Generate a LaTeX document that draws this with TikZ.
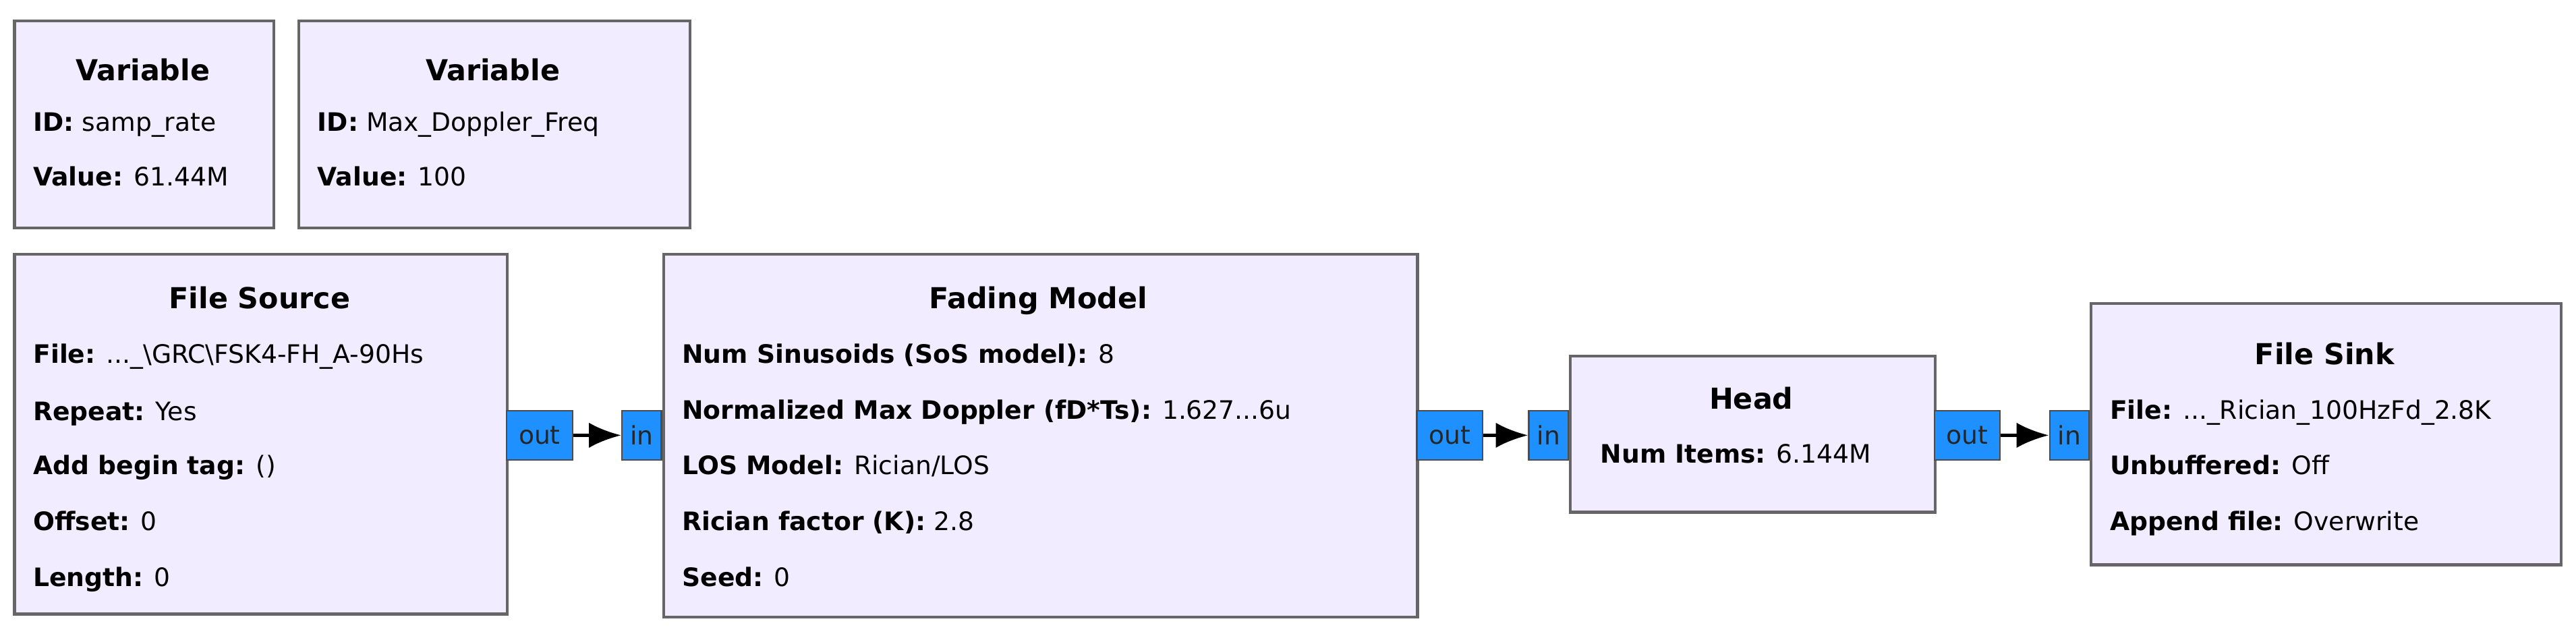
\documentclass[tikz,border=0pt]{standalone}
\usepackage{fontspec}
\setmainfont{DejaVu Sans}
\usetikzlibrary{positioning,arrows.meta}
\definecolor{blkfill}{HTML}{F1ECFF}
\definecolor{portfill}{HTML}{1E90FF}
\tikzset{
  blk/.style={draw=black!60, fill=blkfill, line width=1.2pt, anchor=north west, inner sep=0pt},
  ttl/.style={font=\fontsize{12.5}{14}\selectfont\bfseries, anchor=base},
  prm/.style={font=\fontsize{11}{13}\selectfont, anchor=base west, inner sep=0pt},
  port/.style={draw=black!70, fill=portfill, line width=0.6pt, inner sep=1pt,
    minimum height=30*0.025cm, font=\fontsize{11}{13}\selectfont, text=black!85},
  conn/.style={line width=1.6pt, -{Latex[length=14pt,width=11pt]}}
}
\begin{document}
\begin{tikzpicture}[x=0.025cm,y=-0.025cm]
  \useasboundingbox (0,0) rectangle (1568,388.4);

  % variables
  \node[blk, minimum width=158*0.025cm, minimum height=126*0.025cm] (var1) at (8,12) {};
  \node[ttl] (var1t) at (87,49) {Variable};
  \node[prm] (var1a) at (20,80) {\textbf{ID:} samp\_rate};
  \node[prm] (var1b) at (20,113) {\textbf{Value:} 61.44M};

  \node[blk, minimum width=238*0.025cm, minimum height=126*0.025cm] (var2) at (181,12) {};
  \node[ttl] (var2t) at (300,49) {Variable};
  \node[prm] (var2a) at (193,80) {\textbf{ID:} Max\_Doppler\_Freq};
  \node[prm] (var2b) at (193,113) {\textbf{Value:} 100};

  % blocks
  \node[blk, minimum width=300*0.025cm, minimum height=219*0.025cm] (src) at (8,154) {};
  \node[ttl] (srct) at (158,188) {File Source};
  \node[prm] (src1) at (20,221) {\textbf{File:} ...\_\textbackslash GRC\textbackslash FSK4-FH\_A-90Hs};
  \node[prm] (src2) at (20,256) {\textbf{Repeat:} Yes};
  \node[prm] (src3) at (20,289) {\textbf{Add begin tag:} ()};
  \node[prm] (src4) at (20,323) {\textbf{Offset:} 0};
  \node[prm] (src5) at (20,357) {\textbf{Length:} 0};

  \node[blk, minimum width=459*0.025cm, minimum height=221*0.025cm] (fad) at (403,154) {};
  \node[ttl] (fadt) at (632,188) {Fading Model};
  \node[prm] (fad1) at (415,221) {\textbf{Num Sinusoids (SoS model):} 8};
  \node[prm] (fad2) at (415,255) {\textbf{Normalized Max Doppler (fD*Ts):} 1.627...6u};
  \node[prm] (fad3) at (415,289) {\textbf{LOS Model:} Rician/LOS};
  \node[prm] (fad4) at (415,323) {\textbf{Rician factor (K):} 2.8};
  \node[prm] (fad5) at (415,357) {\textbf{Seed:} 0};

  \node[blk, minimum width=222*0.025cm, minimum height=95*0.025cm] (head) at (955,216) {};
  \node[ttl] (headt) at (1066,249) {Head};
  \node[prm] (head1) at (974,282) {\textbf{Num Items:} 6.144M};

  \node[blk, minimum width=286*0.025cm, minimum height=159*0.025cm] (sink) at (1272,184) {};
  \node[ttl] (sinkt) at (1415,222) {File Sink};
  \node[prm] (sink1) at (1284,255) {\textbf{File:} ...\_Rician\_100HzFd\_2.8K};
  \node[prm] (sink2) at (1284,289) {\textbf{Unbuffered:} Off};
  \node[prm] (sink3) at (1284,323) {\textbf{Append file:} Overwrite};

  % ports
  \node[port, anchor=west, minimum width=40*0.025cm] (srcout) at (308,265) {out};
  \node[port, anchor=east, minimum width=24*0.025cm] (fadin) at (403,265) {in};
  \node[port, anchor=west, minimum width=40*0.025cm] (fadout) at (862,265) {out};
  \node[port, anchor=east, minimum width=24*0.025cm] (headin) at (955,265) {in};
  \node[port, anchor=west, minimum width=40*0.025cm] (headout) at (1177,265) {out};
  \node[port, anchor=east, minimum width=24*0.025cm] (sinkin) at (1272,265) {in};

  \draw[conn] (srcout) -- (fadin);
  \draw[conn] (fadout) -- (headin);
  \draw[conn] (headout) -- (sinkin);
\end{tikzpicture}
\end{document}
